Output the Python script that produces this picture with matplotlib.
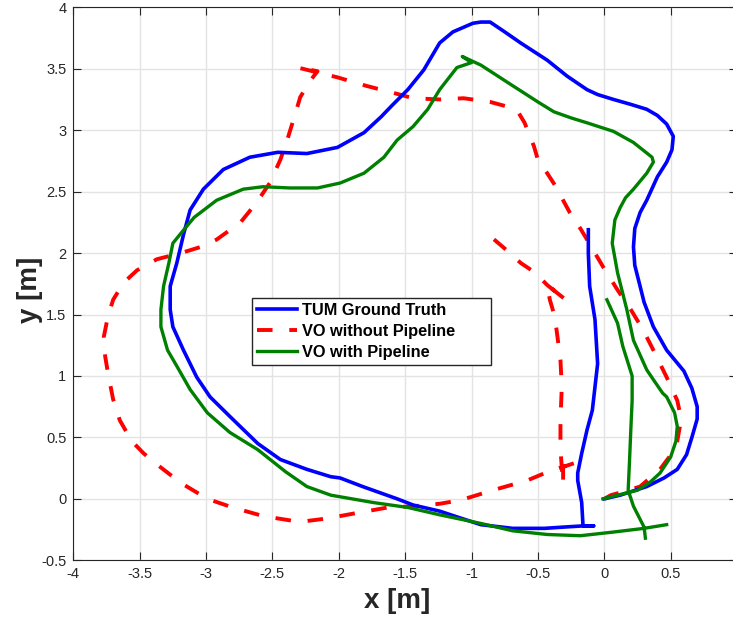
import numpy as np
import matplotlib
matplotlib.use("Agg")
import matplotlib.pyplot as plt

plt.rcParams['font.family'] = ['Liberation Sans', 'DejaVu Sans']

# ---------------- data ----------------
gt_x = [0.0, 0.12, 0.32, 0.45, 0.55, 0.62, 0.66, 0.70, 0.70, 0.66, 0.60, 0.47, 0.37, 0.30, 0.27, 0.23,
        0.22, 0.23, 0.27, 0.32, 0.40, 0.47, 0.51, 0.52, 0.47, 0.40, 0.32, 0.20, 0.07, -0.05, -0.13,
        -0.28, -0.43, -0.63, -0.75, -0.86, -0.93, -0.99, -1.14, -1.24, -1.36, -1.48, -1.60, -1.68,
        -1.81, -2.01, -2.24, -2.46, -2.67, -2.87, -3.02, -3.12, -3.17, -3.22, -3.27, -3.27, -3.25,
        -3.17, -3.07, -2.97, -2.82, -2.61, -2.44, -2.24, -2.06, -1.99, -1.82, -1.56, -1.44, -1.24,
        -1.10, -0.93, -0.69, -0.45, -0.31, -0.16, -0.08, -0.16, -0.17, -0.20, -0.20, -0.17, -0.13,
        -0.09, -0.05, -0.07, -0.11, -0.12, -0.12]
gt_y = [0.0, 0.03, 0.10, 0.17, 0.24, 0.36, 0.50, 0.65, 0.75, 0.90, 1.04, 1.21, 1.40, 1.60, 1.73, 1.90,
        2.05, 2.20, 2.33, 2.43, 2.62, 2.74, 2.84, 2.95, 3.05, 3.12, 3.17, 3.21, 3.25, 3.29, 3.33,
        3.44, 3.57, 3.71, 3.80, 3.88, 3.88, 3.87, 3.80, 3.71, 3.49, 3.33, 3.20, 3.11,
        2.98, 2.86, 2.81, 2.82, 2.78, 2.68, 2.52, 2.35, 2.15, 1.92, 1.73, 1.54, 1.40,
        1.21, 0.99, 0.83, 0.67, 0.45, 0.32, 0.24, 0.18, 0.17, 0.10, 0.00, -0.05, -0.10,
        -0.15, -0.21, -0.24, -0.24, -0.23, -0.22, -0.22, -0.22, -0.03, 0.15, 0.21, 0.37, 0.56,
        0.72, 1.10, 1.46, 1.73, 2.00, 2.19]

vo_x = [0.0, 0.05, 0.15, 0.27, 0.42, 0.51, 0.55, 0.57, 0.57, 0.55, 0.47, 0.37, 0.29, 0.20, 0.10,
        -0.01, -0.13, -0.18, -0.26, -0.31, -0.37, -0.43, -0.50, -0.53, -0.56, -0.60, -0.65, -0.69,
        -0.86, -1.06, -1.24, -1.44, -1.61, -1.79, -2.01, -2.31, -2.16, -2.21, -2.29, -2.34, -2.38,
        -2.44, -2.52, -2.62, -2.74, -2.92, -3.04, -3.19, -3.37, -3.52, -3.62, -3.70, -3.74, -3.77,
        -3.76, -3.74, -3.70, -3.65, -3.56, -3.47, -3.37, -3.19, -2.99, -2.80, -2.57, -2.34, -2.24,
        -2.09, -1.89, -1.63, -1.44, -1.24, -1.08, -0.84, -0.58, -0.38, -0.31, -0.20, -0.31, -0.31,
        -0.32, -0.33, -0.33, -0.32, -0.33, -0.36, -0.38, -0.41, -0.43, -0.29, -0.43, -0.52, -0.63,
        -0.71, -0.84]
vo_y = [0.0, 0.03, 0.06, 0.10, 0.24, 0.37, 0.47, 0.59, 0.70, 0.80, 0.99, 1.21, 1.38, 1.54, 1.70,
        1.89, 2.11, 2.20, 2.33, 2.43, 2.55, 2.65, 2.76, 2.87, 2.95, 3.06, 3.15, 3.18,
        3.23, 3.26, 3.25, 3.26, 3.31, 3.36, 3.43, 3.51, 3.48, 3.41, 3.27, 3.09, 2.95,
        2.76, 2.57, 2.41, 2.25, 2.11, 2.05, 2.00, 1.95, 1.86, 1.76, 1.62, 1.48, 1.32,
        1.16, 1.03, 0.81, 0.64, 0.47, 0.37, 0.28, 0.13, 0.00, -0.07, -0.14, -0.18, -0.18,
        -0.16, -0.12, -0.07, -0.06, -0.04, -0.01, 0.07, 0.15, 0.24, 0.26, 0.30, 0.26, 0.12,
        0.26, 0.40, 0.64, 0.91, 1.13, 1.38, 1.51, 1.62, 1.74, 1.62, 1.74, 1.84, 1.92,
        2.00, 2.12]

# VO with pipeline: main loop, then (after a break) the inner branch
vp_x = [-0.01, 0.10, 0.25, 0.35, 0.42, 0.50, 0.54, 0.55, 0.53, 0.47, 0.44, 0.37, 0.32, 0.22, 0.17,
        0.10, 0.06, 0.08, 0.12, 0.16, 0.22, 0.32, 0.37, 0.36, 0.22, 0.07, -0.13, -0.25, -0.38, -0.50,
        -0.73, -0.93, -0.97, -1.07, -1.00, -1.11, -1.24, -1.33, -1.44, -1.56, -1.66, -1.81, -1.99,
        -2.16, -2.37, -2.57, -2.72, -2.92, -3.09, -3.19, -3.25, -3.28, -3.32, -3.34, -3.34, -3.29,
        -3.22, -3.12, -2.99, -2.82, -2.61, -2.40, -2.24, -2.06, -1.74, -1.48, -1.24, -0.93, -0.69,
        -0.43, -0.18, 0.07, 0.30, 0.47,
        np.nan,
        0.02, 0.10, 0.14, 0.21, 0.21, 0.20, 0.19, 0.18, 0.22, 0.30, 0.31]
vp_y = [0.00, 0.03, 0.07, 0.14, 0.21, 0.34, 0.47, 0.59, 0.70, 0.83, 0.86, 0.97, 1.05, 1.29, 1.54,
        1.84, 2.08, 2.27, 2.37, 2.45, 2.52, 2.65, 2.74, 2.78, 2.90, 2.99, 3.06, 3.10, 3.15, 3.23,
        3.39, 3.53, 3.55, 3.60, 3.55, 3.51, 3.33, 3.17, 3.03, 2.92, 2.78, 2.65, 2.57,
        2.53, 2.53, 2.54, 2.52, 2.43, 2.29, 2.16, 2.08, 1.92, 1.73, 1.54, 1.40, 1.21,
        1.08, 0.89, 0.70, 0.54, 0.40, 0.22, 0.10, 0.03, -0.03, -0.07, -0.13, -0.20, -0.26,
        -0.29, -0.30, -0.27, -0.24, -0.21,
        np.nan,
        1.62, 1.43, 1.24, 1.00, 0.80, 0.56, 0.30, 0.07, -0.06, -0.23, -0.32]

labels = ['TUM Ground Truth', 'VO without Pipeline', 'VO with Pipeline']
x_ticks = [-4, -3.5, -3, -2.5, -2, -1.5, -1, -0.5, 0, 0.5]
x_tick_labels = ['-4', '-3.5', '-3', '-2.5', '-2', '-1.5', '-1', '-0.5', '0', '0.5']
y_ticks = [-0.5, 0, 0.5, 1, 1.5, 2, 2.5, 3, 3.5, 4]
y_tick_labels = ['-0.5', '0', '0.5', '1', '1.5', '2', '2.5', '3', '3.5', '4']

# ---------------- figure ----------------
W, H = 733, 620
fig = plt.figure(figsize=(W / 100, H / 100), dpi=100)
ax_left, ax_right, ax_top, ax_bot = 73.3, 737.0, 7.3, 560.3
ax = fig.add_axes([ax_left / W, 1 - ax_bot / H, (ax_right - ax_left) / W, (ax_bot - ax_top) / H])

ax.plot(gt_x, gt_y, color='#0000ff', lw=2.6, label=labels[0], solid_joinstyle='round', zorder=3)
ax.plot(vo_x, vo_y, color='#ff0000', lw=2.8, linestyle=(0, (4.0, 4.3)), label=labels[1],
        dash_capstyle='butt', dash_joinstyle='round', zorder=2)
ax.plot(vp_x, vp_y, color='#008000', lw=2.4, label=labels[2], solid_joinstyle='round', zorder=4)

ax.set_xlim(-4, 1)
ax.set_ylim(-0.5, 4)
ax.set_xticks(x_ticks)
ax.set_xticklabels(x_tick_labels)
ax.set_yticks(y_ticks)
ax.set_yticklabels(y_tick_labels)

ax.grid(True, color='#e3e3e3', linewidth=1.0)
ax.set_axisbelow(True)
ax.tick_params(direction='in', length=5.5, width=0.8, colors='#262626', labelsize=10.5,
               top=True, right=True, pad=5)
for s in ax.spines.values():
    s.set_color('#262626')
    s.set_linewidth(0.8)

ax.set_xlabel('x [m]', fontsize=20, fontweight='bold', color='#262626')
ax.set_ylabel('y [m]', fontsize=20, fontweight='bold', color='#262626')
ax.xaxis.set_label_coords((397 - ax_left) / (ax_right - ax_left), -0.05)
ax.yaxis.set_label_coords((43 - ax_left) / (ax_right - ax_left), 0.489)

leg_x0, leg_x1, leg_y0, leg_y1 = 252, 491, 298, 362
leg = ax.legend(loc='upper left',
                bbox_to_anchor=(leg_x0 / W, 1 - leg_y1 / H, (leg_x1 - leg_x0) / W, (leg_y1 - leg_y0) / H),
                bbox_transform=fig.transFigure, mode='expand',
                fancybox=False, framealpha=1, edgecolor='#262626',
                prop={'weight': 'bold', 'size': 11.8}, handlelength=2.45, handletextpad=0.3,
                borderpad=0.3, labelspacing=0.36, borderaxespad=0)
leg.get_frame().set_linewidth(1.0)

fig.savefig('out.png', dpi=100)
